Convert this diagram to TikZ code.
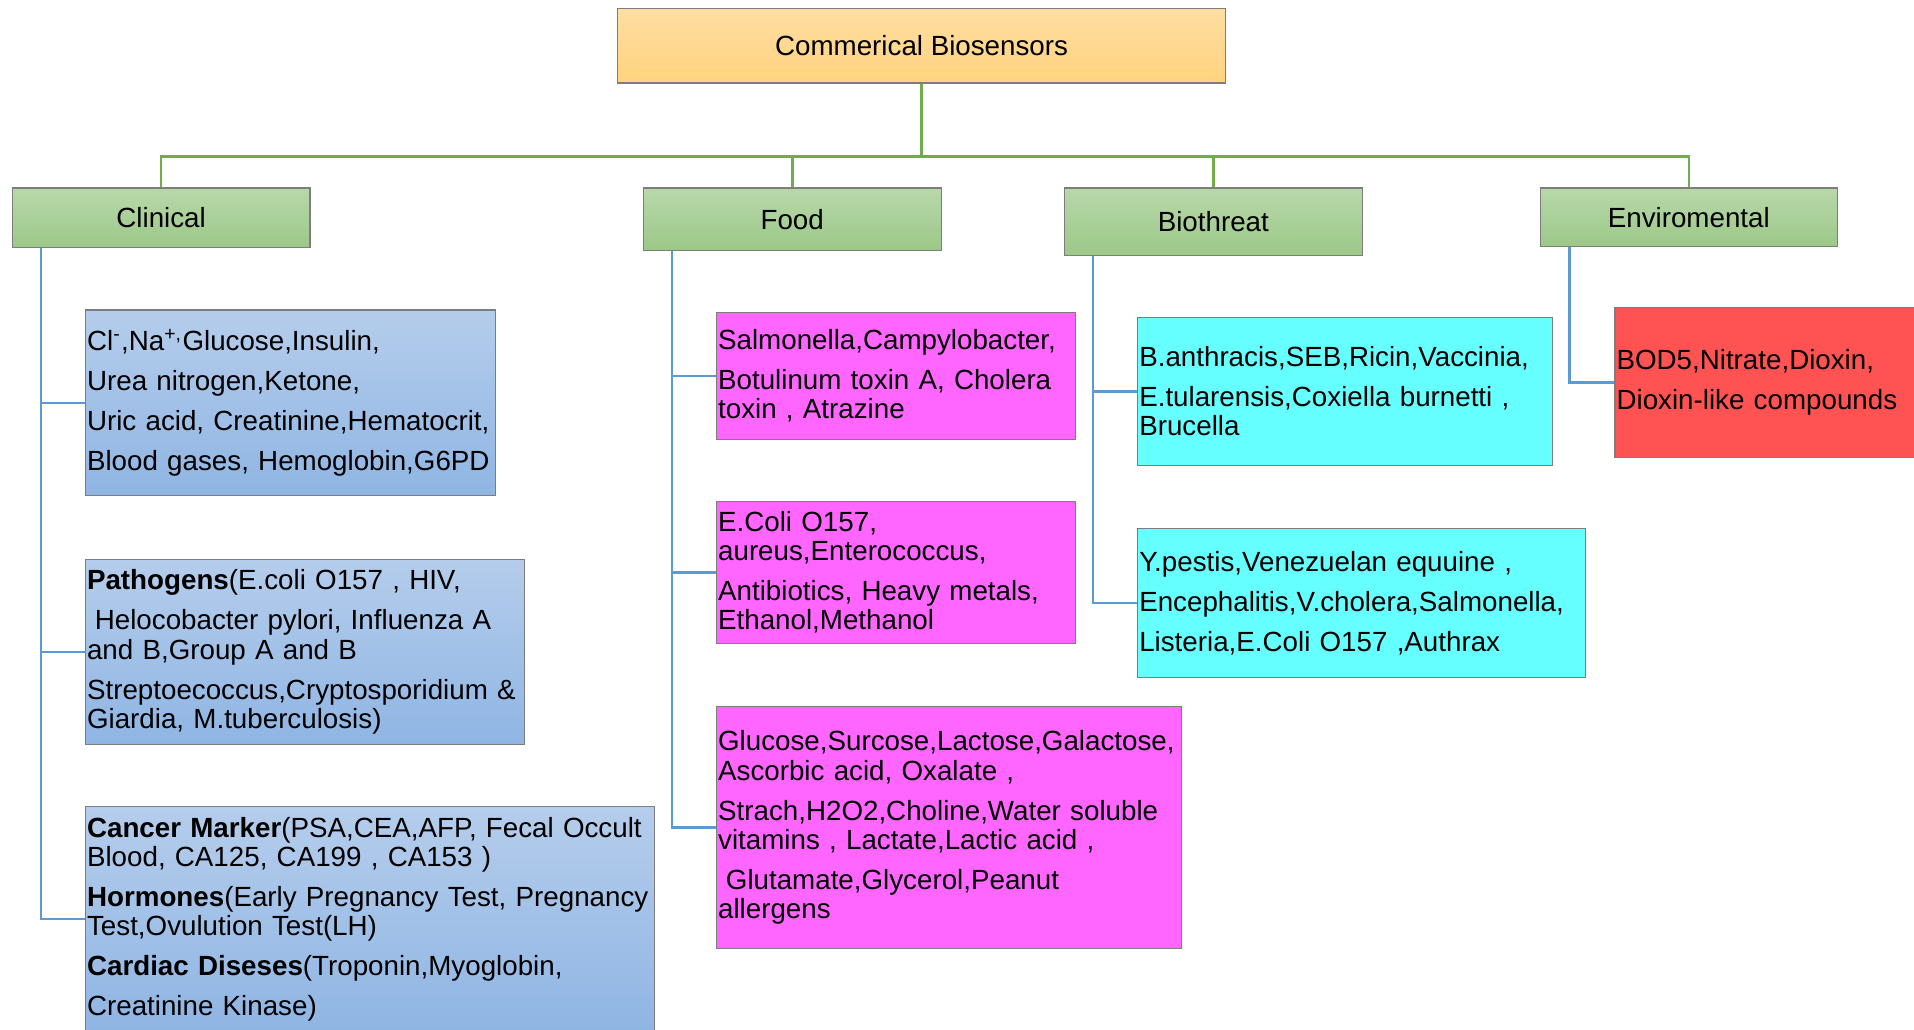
\documentclass[tikz,border=0pt]{standalone}
\usepackage{fontspec}
\setmainfont{Liberation Sans}
\usepackage{tikz}

\definecolor{trunkgreen}{RGB}{112,173,71}
\definecolor{branchblue}{RGB}{91,155,213}
\definecolor{boxgray}{RGB}{125,125,125}
\definecolor{roottop}{RGB}{255,222,162}
\definecolor{rootbot}{RGB}{255,211,126}
\definecolor{headtop}{RGB}{184,216,170}
\definecolor{headbot}{RGB}{156,200,136}
\definecolor{clintop}{RGB}{181,205,236}
\definecolor{clinbot}{RGB}{143,181,227}
\definecolor{foodpink}{RGB}{255,102,255}
\definecolor{threatcyan}{RGB}{102,255,255}
\definecolor{envred}{RGB}{255,82,82}

\newcommand\lgap{\\[3.8pt]}

\tikzset{
  every node/.style={font=\fontsize{9.7}{10.2}\selectfont},
  card/.style={draw=boxgray, line width=.4pt, inner xsep=.02cm, inner ysep=0pt, align=left},
  rootbox/.style={card, top color=roottop, bottom color=rootbot, align=center},
  headbox/.style={card, top color=headtop, bottom color=headbot, align=center},
  clinbox/.style={card, top color=clintop, bottom color=clinbot},
  foodbox/.style={card, fill=foodpink},
  threatbox/.style={card, fill=threatcyan},
  envbox/.style={card, fill=envred},
  trunk/.style={draw=trunkgreen, line width=.9pt},
  branch/.style={draw=branchblue, line width=.9pt},
}

\begin{document}
\begin{tikzpicture}[x=.015cm, y=-.015cm]

\useasboundingbox (0,0) rectangle (1568,843);
\clip (0,0) rectangle (1568,843);

% top of the tree
\node[rootbox, minimum width=7.47cm, minimum height=.915cm] (root) at (755,37.5)
  {Commerical Biosensors};

\node[headbox, minimum width=3.66cm, minimum height=.735cm] (clin) at (132,178.5) {Clinical};
\node[headbox, minimum width=3.66cm, minimum height=.765cm] (food) at (649,179.5) {Food};
\node[headbox, minimum width=3.66cm, minimum height=.825cm] (threat) at (994,181.5) {Biothreat};
\node[headbox, minimum width=3.645cm, minimum height=.72cm] (env) at (1383.5,178) {Enviromental};

\coordinate (bus) at (755,128);

\draw[trunk] (root.south) -- (bus);
\draw[trunk] (bus) -| (clin.north);
\draw[trunk] (bus) -| (food.north);
\draw[trunk] (bus) -| (threat.north);
\draw[trunk] (bus) -| (env.north);

% clinical
\node[clinbox, minimum width=5.04cm, minimum height=2.28cm, text width=5cm] (clin1) at (238,330)
  {Cl\textsuperscript{-},Na\textsuperscript{+,}Glucose,Insulin,\lgap
   Urea nitrogen,Ketone,\lgap
   Uric acid, Creatinine,Hematocrit,\lgap
   Blood gases, Hemoglobin,G6PD};

\node[clinbox, minimum width=5.4cm, minimum height=2.28cm, text width=5.36cm] (clin2) at (250,534)
  {\textbf{Pathogens}(E.coli O157 , HIV,\lgap
   \hspace*{.28em}Helocobacter pylori, Influenza A\\
   and B,Group A and B\lgap
   Streptoecoccus,Cryptosporidium \&\\
   Giardia, M.tuberculosis)};

\node[clinbox, minimum width=6.99cm, minimum height=2.76cm, text width=6.95cm] (clin3) at (303,753)
  {\textbf{Cancer Marker}(PSA,CEA,AFP, Fecal Occult\\
   Blood, CA125, CA199 , CA153 )\lgap
   \textbf{Hormones}(Early Pregnancy Test, Pregnancy\\
   Test,Ovulution Test(LH)\lgap
   \textbf{Cardiac Diseses}(Troponin,Myoglobin,\lgap
   Creatinine Kinase)};

\draw[branch] ([xshift=.36cm]clin.south west) |- (clin1.west);
\draw[branch] ([xshift=.36cm]clin.south west) |- (clin2.west);
\draw[branch] ([xshift=.36cm]clin.south west) |- (clin3.west);

% food
\node[foodbox, minimum width=4.41cm, minimum height=1.56cm, text width=4.37cm] (food1) at (734,308)
  {Salmonella,Campylobacter,\lgap
   Botulinum toxin A, Cholera\\
   toxin , Atrazine};

\node[foodbox, minimum width=4.41cm, minimum height=1.74cm, text width=4.37cm] (food2) at (734,469)
  {E.Coli O157,\\
   aureus,Enterococcus,\lgap
   Antibiotics, Heavy metals,\\
   Ethanol,Methanol};

\node[foodbox, minimum width=5.715cm, minimum height=2.97cm, text width=5.675cm] (food3) at (777.5,678)
  {Glucose,Surcose,Lactose,Galactose,\\
   Ascorbic acid, Oxalate ,\lgap
   Strach,H2O2,Choline,Water soluble\\
   vitamins , Lactate,Lactic acid ,\lgap
   \hspace*{.28em}Glutamate,Glycerol,Peanut\\
   allergens};

\draw[branch] ([xshift=.36cm]food.south west) |- (food1.west);
\draw[branch] ([xshift=.36cm]food.south west) |- (food2.west);
\draw[branch] ([xshift=.36cm]food.south west) |- (food3.west);

% biothreat
\node[threatbox, minimum width=5.1cm, minimum height=1.815cm, text width=5.06cm] (threat1) at (1102,320.5)
  {B.anthracis,SEB,Ricin,Vaccinia,\lgap
   E.tularensis,Coxiella burnetti ,\\
   Brucella};

\node[threatbox, minimum width=5.505cm, minimum height=1.83cm, text width=5.465cm] (threat2) at (1115.5,494)
  {Y.pestis,Venezuelan equuine ,\lgap
   Encephalitis,V.cholera,Salmonella,\lgap
   Listeria,E.Coli O157 ,Authrax};

\draw[branch] ([xshift=.36cm]threat.south west) |- (threat1.west);
\draw[branch] ([xshift=.36cm]threat.south west) |- (threat2.west);

% environmental
\node[envbox, minimum width=3.705cm, minimum height=1.845cm, text width=3.665cm] (env1) at (1446.5,313.5)
  {BOD5,Nitrate,Dioxin,\lgap
   Dioxin-like compounds};

\draw[branch] ([xshift=.36cm]env.south west) |- (env1.west);

\end{tikzpicture}
\end{document}
